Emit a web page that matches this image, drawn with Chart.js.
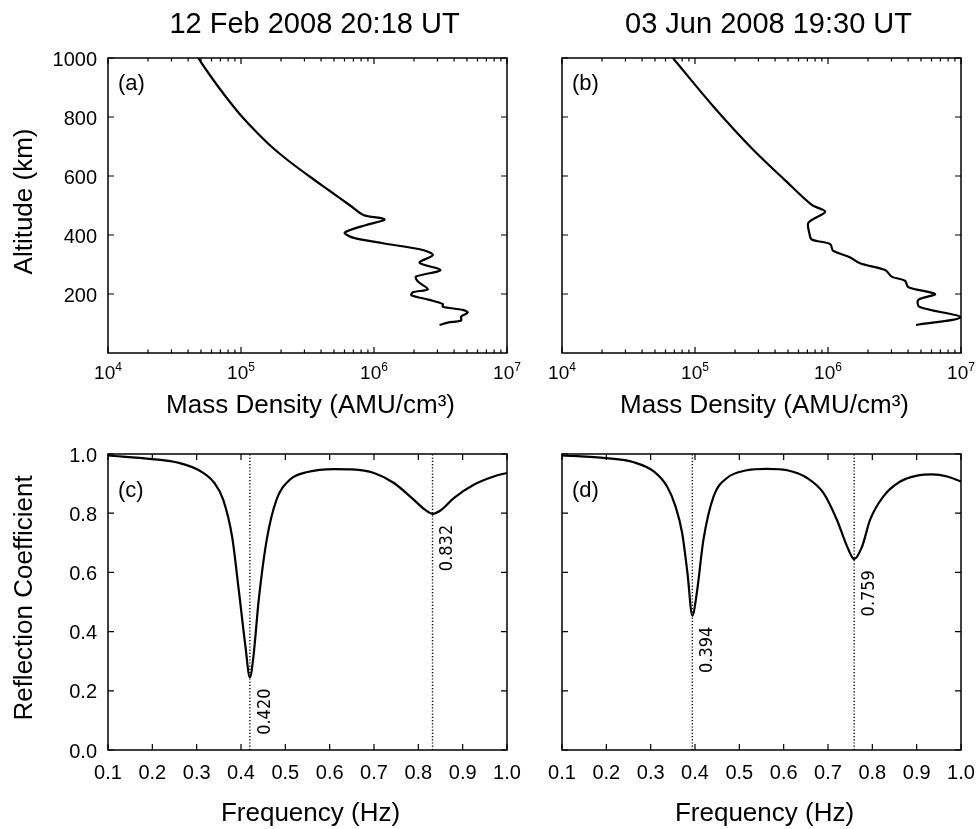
<!DOCTYPE html>
<html>
<head>
<meta charset="utf-8">
<script src="https://cdn.jsdelivr.net/npm/chart.js@4.4.1/dist/chart.umd.min.js"></script>
<style>
    html, body { margin: 0; padding: 0; background: #fff; }
    #wrap { position: relative; width: 977px; height: 829px; }
    #wrap canvas { position: absolute; left: 0; top: 0; }
</style>
</head>
<body>
<div id="wrap">
    <canvas id="chartA" width="977" height="829"></canvas>
    <canvas id="chartB" width="977" height="829"></canvas>
    <canvas id="chartC" width="977" height="829"></canvas>
    <canvas id="chartD" width="977" height="829"></canvas>
</div>
<script>
// --- data ---
// (a) 12 Feb 2008: altitude (km) vs mass density (AMU/cm^3)
const altA = [1000, 950, 900, 850, 807, 750, 700, 650, 600, 550, 500, 468, 453, 434, 408, 391, 372, 349, 332,
              306, 281, 259, 242, 216, 206, 196, 180, 166, 157, 146, 137, 123, 110, 103, 95];
const densA = [4.76e4, 5.67e4, 6.81e4, 8.28e4, 9.91e4, 1.30e5, 1.69e5, 2.30e5, 3.24e5, 4.63e5, 6.62e5, 8.32e5,
               1.20e6, 8.75e5, 6.03e5, 6.95e5, 1.17e6, 2.33e6, 2.77e6,
               2.20e6, 3.16e6, 2.07e6, 2.14e6, 2.54e6, 1.96e6, 1.91e6, 2.61e6, 3.29e6, 3.29e6, 4.65e6, 5.07e6, 4.52e6, 4.52e6, 3.59e6, 3.11e6];
// (b) 03 Jun 2008
const altB = [1000, 835, 688, 586, 502, 479, 442, 406, 385, 369, 347, 324,
              304, 281, 259, 245, 223, 200, 180, 157, 121, 95];
const densB = [6.82e4, 1.38e5, 2.75e5, 4.75e5, 7.55e5, 9.51e5, 7.13e5, 7.24e5, 7.55e5, 1.04e6, 1.09e6, 1.47e6,
               1.74e6, 2.69e6, 3.01e6, 3.79e6, 4.02e6, 6.38e6, 4.78e6, 4.85e6, 9.9e6, 4.59e6];

// (c) reflection coefficient vs frequency
const freqC = [0.10, 0.20, 0.26, 0.31, 0.34, 0.36, 0.38, 0.395, 0.41, 0.42, 0.428, 0.44, 0.458, 0.48, 0.51, 0.55,
               0.61, 0.65, 0.70, 0.745, 0.79, 0.815, 0.832, 0.85, 0.88, 0.925, 0.97, 1.00];
const reflC = [0.995, 0.983, 0.970, 0.941, 0.902, 0.845, 0.720, 0.540, 0.350, 0.245, 0.315, 0.507, 0.710, 0.845, 0.913, 0.939,
               0.949, 0.948, 0.936, 0.902, 0.845, 0.812, 0.798, 0.809, 0.851, 0.896, 0.924, 0.936];
// (d)
const freqD = [0.10, 0.20, 0.262, 0.307, 0.337, 0.356, 0.371, 0.383, 0.394, 0.404, 0.419, 0.442, 0.472, 0.517, 0.562, 0.608,
               0.653, 0.690, 0.720, 0.743, 0.759, 0.777, 0.795, 0.825, 0.863, 0.901, 0.935, 0.969, 1.00];
const reflD = [0.995, 0.986, 0.972, 0.941, 0.890, 0.823, 0.733, 0.598, 0.454, 0.530, 0.710, 0.857, 0.919, 0.945, 0.950, 0.945,
               0.919, 0.868, 0.778, 0.688, 0.645, 0.688, 0.778, 0.857, 0.907, 0.927, 0.931, 0.924, 0.907];

// resonance markers (frequency, curve minimum)
const peaksC = [0.420, 0.832];
const peakMinC = [0.245, 0.798];
const peaksD = [0.394, 0.759];
const peakMinD = [0.454, 0.645];

// tick values / labels
const altTicks = [200, 400, 600, 800, 1000];
const densTicks = [1e4, 1e5, 1e6, 1e7];
const densExp = ['4', '5', '6', '7'];
const freqTicks = [0.1, 0.2, 0.3, 0.4, 0.5, 0.6, 0.7, 0.8, 0.9, 1.0];
const freqLabels = ['0.1', '0.2', '0.3', '0.4', '0.5', '0.6', '0.7', '0.8', '0.9', '1.0'];
const reflTicks = [0, 0.2, 0.4, 0.6, 0.8, 1.0];
const reflLabels = ['0.0', '0.2', '0.4', '0.6', '0.8', '1.0'];

const FONT = '"Liberation Sans", Arial, Helvetica, sans-serif';
const ANN_FONT = '"DejaVu Sans Condensed", "DejaVu Sans", sans-serif';

function xy(xs, ys) {
    return xs.map(function (v, i) { return { x: v, y: ys[i] }; });
}

// frame, inward ticks, labels and titles (gnuplot look)
const panelDeco = {
    id: 'panelDeco',
    afterDraw: function (chart, args, o) {
        const ctx = chart.ctx, a = chart.chartArea;
        const xs = chart.scales.x, ys = chart.scales.y;
        ctx.save();
        ctx.strokeStyle = '#000';
        ctx.fillStyle = '#000';
        ctx.lineWidth = 1.5;
        ctx.strokeRect(a.left, a.top, a.right - a.left, a.bottom - a.top);

        ctx.lineWidth = 1.2;
        ctx.beginPath();
        o.yTicks.forEach(function (v) {
            const y = ys.getPixelForValue(v);
            ctx.moveTo(a.left, y); ctx.lineTo(a.left + 6, y);
            ctx.moveTo(a.right, y); ctx.lineTo(a.right - 6, y);
        });
        o.xTicks.forEach(function (v) {
            const x = xs.getPixelForValue(v);
            ctx.moveTo(x, a.bottom); ctx.lineTo(x, a.bottom - 6);
            ctx.moveTo(x, a.top); ctx.lineTo(x, a.top + 6);
        });
        if (o.logX) {
            // minor ticks 2..9 in each decade
            for (let i = 0; i < o.xTicks.length - 1; i++) {
                for (let m = 2; m <= 9; m++) {
                    const x = xs.getPixelForValue(m * o.xTicks[i]);
                    ctx.moveTo(x, a.bottom); ctx.lineTo(x, a.bottom - 3.5);
                    ctx.moveTo(x, a.top); ctx.lineTo(x, a.top + 3.5);
                }
            }
        }
        ctx.stroke();

        // y tick labels
        if (o.yLabels) {
            ctx.font = '20px ' + FONT;
            ctx.textAlign = 'right';
            ctx.textBaseline = 'middle';
            o.yTicks.forEach(function (v, i) {
                ctx.fillText(o.yLabels[i], a.left - 11, ys.getPixelForValue(v) + 2);
            });
        }

        // x tick labels
        ctx.textBaseline = 'alphabetic';
        if (o.logX) {
            o.xTicks.forEach(function (v, i) {
                const x = xs.getPixelForValue(v);
                ctx.font = '19px ' + FONT;
                const w1 = ctx.measureText('10').width;
                ctx.font = '12px ' + FONT;
                const w2 = ctx.measureText(o.xExp[i]).width;
                const x0 = x - (w1 + w2) / 2;
                ctx.textAlign = 'left';
                ctx.font = '19px ' + FONT;
                ctx.fillText('10', x0, a.bottom + 26);
                ctx.font = '12px ' + FONT;
                ctx.fillText(o.xExp[i], x0 + w1, a.bottom + 18);
            });
        } else {
            ctx.font = '20px ' + FONT;
            ctx.textAlign = 'center';
            o.xTicks.forEach(function (v, i) {
                ctx.fillText(o.xLabels[i], xs.getPixelForValue(v), a.bottom + 29);
            });
        }

        const cx = (a.left + a.right) / 2;
        // x axis title
        ctx.font = '26px ' + FONT;
        ctx.textAlign = 'center';
        ctx.fillText(o.xTitle, cx + 3, a.bottom + o.xTitleOff);

        // y axis title
        if (o.yTitle) {
            ctx.save();
            ctx.translate(25, (a.top + a.bottom) / 2 - 4);
            ctx.rotate(-Math.PI / 2);
            ctx.textBaseline = 'middle';
            ctx.fillText(o.yTitle, 0, 0);
            ctx.restore();
        }

        // chart title
        if (o.title) {
            ctx.font = '29px ' + FONT;
            ctx.fillText(o.title, cx + 7, 33);
        }

        // panel letter
        ctx.font = '22px ' + FONT;
        ctx.textAlign = 'left';
        ctx.fillText(o.letter, a.left + 10, o.letterY);

        // rotated resonance labels
        if (o.peaks) {
            ctx.font = '18px ' + ANN_FONT;
            o.peaks.forEach(function (f, i) {
                ctx.save();
                ctx.translate(xs.getPixelForValue(f) + 15, ys.getPixelForValue(o.peakMin[i]) + 11);
                ctx.rotate(-Math.PI / 2);
                ctx.textAlign = 'right';
                ctx.textBaseline = 'middle';
                ctx.fillText(f.toFixed(3), 0, 0);
                ctx.restore();
            });
        }
        ctx.restore();
    }
};

function curveSet(points, mode) {
    return {
        data: points,
        showLine: true,
        borderColor: '#000',
        borderWidth: 2.2,
        pointRadius: 0,
        tension: mode === 'monotone' ? 0.4 : 0.3,
        cubicInterpolationMode: mode === 'monotone' ? 'monotone' : 'default'
    };
}

function markerSets(peaks) {
    return peaks.map(function (f) {
        return {
            data: [{ x: f, y: 0 }, { x: f, y: 1 }],
            showLine: true,
            borderColor: '#000',
            borderWidth: 1.4,
            borderDash: [1.2, 2],
            pointRadius: 0
        };
    });
}

function makeChart(id, datasets, pad, xScale, yScale, deco) {
    return new Chart(document.getElementById(id).getContext('2d'), {
        type: 'scatter',
        data: { datasets: datasets },
        options: {
            responsive: false,
            animation: false,
            layout: { padding: pad },
            scales: { x: xScale, y: yScale },
            plugins: {
                legend: { display: false },
                tooltip: { enabled: false },
                panelDeco: deco
            }
        },
        plugins: [panelDeco]
    });
}

const densScale = { type: 'logarithmic', min: 1e4, max: 1e7, display: false };
const altScale = { type: 'linear', min: 0, max: 1000, display: false };
const freqScale = { type: 'linear', min: 0.1, max: 1.0, display: false };
const reflScale = { type: 'linear', min: 0, max: 1.0, display: false };

const padA = { left: 108, top: 58, right: 470, bottom: 476 };
const padB = { left: 562, top: 58, right: 16, bottom: 476 };
const padC = { left: 108, top: 454, right: 470, bottom: 79 };
const padD = { left: 562, top: 454, right: 16, bottom: 79 };

const massTitle = 'Mass Density (AMU/cm\u00B3)';

makeChart('chartA', [curveSet(xy(densA, altA))], padA, densScale, altScale, {
    xTicks: densTicks, xExp: densExp, logX: true, yTicks: altTicks,
    yLabels: altTicks.map(String), xTitle: massTitle, xTitleOff: 60,
    yTitle: 'Altitude (km)', title: '12 Feb 2008 20:18 UT', letter: '(a)', letterY: 90
});
makeChart('chartB', [curveSet(xy(densB, altB))], padB, densScale, altScale, {
    xTicks: densTicks, xExp: densExp, logX: true, yTicks: altTicks,
    xTitle: massTitle, xTitleOff: 60, title: '03 Jun 2008 19:30 UT', letter: '(b)', letterY: 90
});
makeChart('chartC', markerSets(peaksC).concat([curveSet(xy(freqC, reflC), 'monotone')]), padC, freqScale, reflScale, {
    xTicks: freqTicks, xLabels: freqLabels, yTicks: reflTicks, yLabels: reflLabels,
    xTitle: 'Frequency (Hz)', xTitleOff: 71, yTitle: 'Reflection Coefficient', letter: '(c)', letterY: 497,
    peaks: peaksC, peakMin: peakMinC
});
makeChart('chartD', markerSets(peaksD).concat([curveSet(xy(freqD, reflD), 'monotone')]), padD, freqScale, reflScale, {
    xTicks: freqTicks, xLabels: freqLabels, yTicks: reflTicks,
    xTitle: 'Frequency (Hz)', xTitleOff: 71, letter: '(d)', letterY: 497,
    peaks: peaksD, peakMin: peakMinD
});
</script>
</body>
</html>
